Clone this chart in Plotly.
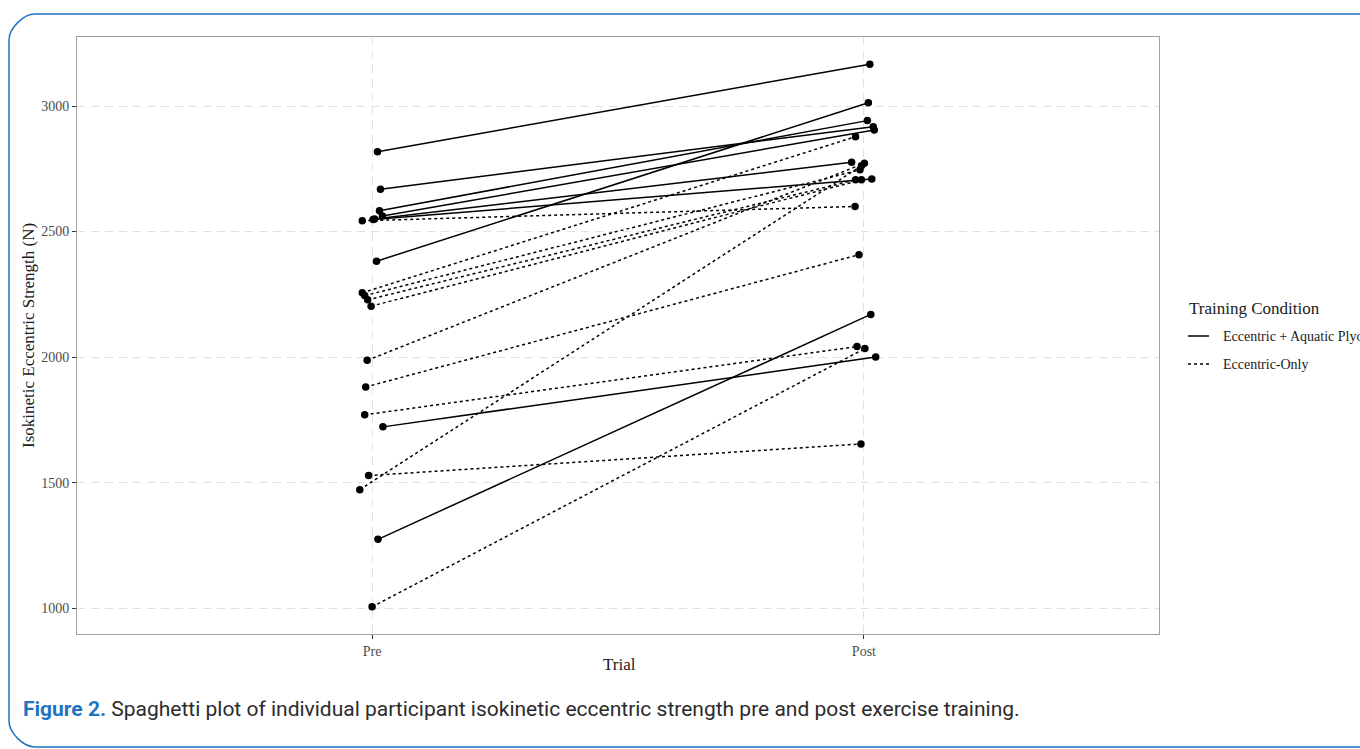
import plotly.graph_objects as go

# Isokinetic eccentric strength (N) per participant, pre and post training
plyo_pre = [2818, 2669, 2583, 2562, 2550, 2548, 2382, 1722, 1274]
plyo_post = [3167, 2918, 2942, 2905, 2776, 2709, 3013, 2000, 2170]
ecc_pre = [2543, 2256, 2245, 2228, 2203, 1987, 1881, 1770, 1528, 1472, 1005]
ecc_post = [2600, 2878, 2746, 2706, 2706, 2772, 2408, 2042, 1654, 2762, 2034]

# horizontal jitter (in trial units) applied to each participant's points
plyo_pre_jit = [0.011, 0.017, 0.015, 0.021, 0.005, 0.002, 0.009, 0.022, 0.012]
plyo_post_jit = [0.012, 0.019, 0.007, 0.021, -0.025, 0.016, 0.009, 0.024, 0.014]
ecc_pre_jit = [-0.020, -0.020, -0.015, -0.009, -0.002, -0.010, -0.013, -0.015, -0.007, -0.025, 0.0]
ecc_post_jit = [-0.018, -0.017, -0.008, -0.017, -0.005, 0.001, -0.010, -0.014, -0.006, -0.005, 0.002]

trials = ["Pre", "Post"]
y_ticks = [1000, 1500, 2000, 2500, 3000]
groups = ["Eccentric + Aquatic Plyo", "Eccentric-Only"]

W, H = 1360, 749
PL, PR, PT, PB = 77, 1159, 37, 634
SERIF = "Liberation Serif, Times New Roman, serif"


def px(x):
    return (x - PL) / (PR - PL)


def py(y):
    return (PB - y) / (PB - PT)


fig = go.Figure()


def add_group(pre, post, pj, qj, dash):
    for a, b, ja, jb in zip(pre, post, pj, qj):
        fig.add_trace(go.Scatter(
            x=[1 + ja, 2 + jb], y=[a, b], mode="lines+markers",
            line=dict(color="black", width=1.5, dash=dash),
            marker=dict(color="black", size=7.5),
            showlegend=False, hoverinfo="y"))


add_group(plyo_pre, plyo_post, plyo_pre_jit, plyo_post_jit, "solid")
add_group(ecc_pre, ecc_post, ecc_pre_jit, ecc_post_jit, "3px,3px")

all_vals = plyo_pre + plyo_post + ecc_pre + ecc_post
lo, hi = min(all_vals), max(all_vals)
pad = 0.05 * (hi - lo)

axis_common = dict(
    showline=True, mirror=True, linecolor="#a0a0a0", linewidth=1,
    ticks="outside", ticklen=4, tickwidth=1, tickcolor="#333333",
    showgrid=True, gridcolor="#e0e0e0", gridwidth=1, griddash="8px,6px",
    zeroline=False,
    tickfont=dict(family=SERIF, size=14, color="#4d4d4d"),
)

fig.update_layout(
    width=W, height=H,
    margin=dict(l=PL, r=W - PR, t=PT, b=H - PB),
    paper_bgcolor="white", plot_bgcolor="white",
    showlegend=False,
    xaxis=dict(range=[0.4, 2.6], tickvals=[1, 2], ticktext=trials, **axis_common),
    yaxis=dict(range=[lo - pad, hi + pad], tickvals=y_ticks, **axis_common),
)

annotations = [
    dict(text="Isokinetic Eccentric Strength (N)", x=px(28), y=py(336),
         textangle=-90, font=dict(family=SERIF, size=17, color="#1a1a1a")),
    dict(text="Trial", x=px(619), y=py(664),
         font=dict(family=SERIF, size=17, color="#1a1a1a")),
    dict(text="Training Condition", x=px(1187), y=py(308), xanchor="left",
         font=dict(family=SERIF, size=17, color="#1a1a1a")),
    dict(text=groups[0], x=px(1221), y=py(336), xanchor="left",
         font=dict(family=SERIF, size=14, color="#1a1a1a")),
    dict(text=groups[1], x=px(1221), y=py(364), xanchor="left",
         font=dict(family=SERIF, size=14, color="#1a1a1a")),
    dict(text="<b><span style='color:#1f74c1'>Figure 2.</span></b> "
              "Spaghetti plot of individual participant isokinetic eccentric "
              "strength pre and post exercise training.",
         x=px(21), y=py(709), xanchor="left",
         font=dict(family="Roboto, sans-serif", size=21, color="#2b2b2b")),
]
for a in annotations:
    a.update(xref="paper", yref="paper", showarrow=False, yanchor="middle")
    a.setdefault("xanchor", "center")
fig.update_layout(annotations=annotations)

shapes = [
    dict(type="line", x0=px(1188), x1=px(1209), y0=py(336), y1=py(336),
         line=dict(color="black", width=1.5)),
    dict(type="line", x0=px(1188), x1=px(1209), y0=py(364), y1=py(364),
         line=dict(color="black", width=1.5, dash="3px,3px")),
]

# rounded card frame around the figure
x0, x1, y0, y1, r = 9, 1400, 14, 747, 26
k = 0.45 * r
pts = [
    ("M", [(x0 + r, y0)]), ("L", [(x1, y0)]),
    ("M", [(x0 + r, y0)]),
    ("C", [(x0 + r - k, y0), (x0, y0 + r - k), (x0, y0 + r)]),
    ("L", [(x0, y1 - r)]),
    ("C", [(x0, y1 - r + k), (x0 + r - k, y1), (x0 + r, y1)]),
    ("L", [(x1, y1)]),
]
path = " ".join(c + " " + " ".join(f"{px(a):.5f},{py(b):.5f}" for a, b in p) for c, p in pts)
shapes.append(dict(type="path", path=path, xref="paper", yref="paper",
                   line=dict(color="#1f74c1", width=1.5)))
for s in shapes:
    s.setdefault("xref", "paper")
    s.setdefault("yref", "paper")
fig.update_layout(shapes=shapes)

fig.write_html("out.html")
